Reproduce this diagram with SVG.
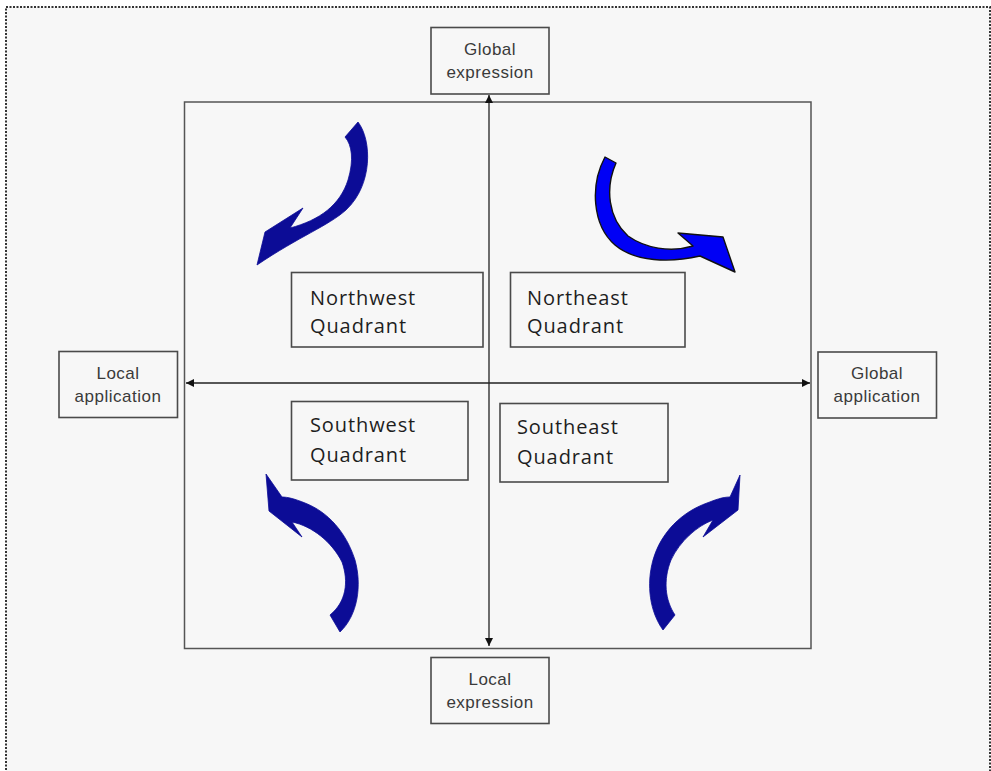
<svg xmlns="http://www.w3.org/2000/svg" width="991" height="771" viewBox="0 0 991 771">
  <style>
    .frame { fill: #f7f7f7; stroke: #333; stroke-width: 2; stroke-dasharray: 2 1.5; }
    .square { fill: none; stroke: #555; stroke-width: 1.5; }
    .box { fill: #f7f7f7; stroke: #4a4a4a; stroke-width: 1.6; }
    .axis { fill: none; stroke: #222; stroke-width: 1.3; }
    .lbl { font-family: "Liberation Sans", Arial, sans-serif; font-size: 17px; letter-spacing: 0.5px; fill: #3a3a3a; text-anchor: middle; }
    .quad { font-family: "Open Sans", "Noto Sans", sans-serif; font-size: 20px; letter-spacing: 0.9px; fill: #1e1e1e; }
    .navy { fill: #0c0c96; stroke: #0c0c96; stroke-width: 0.8; stroke-linejoin: round; }
    .bright { fill: #0000f5; stroke: #111; stroke-width: 1.4; stroke-linejoin: round; }
  </style>
  <defs>
    <marker id="tip" viewBox="0 0 10 10" refX="10" refY="5" markerWidth="8" markerHeight="8" markerUnits="userSpaceOnUse" orient="auto-start-reverse">
      <path d="M0,0 L10,5 L0,10 Z" fill="#111"/>
    </marker>
  </defs>

  <rect x="0" y="0" width="991" height="771" fill="#ffffff"/>
  <rect class="frame" x="6" y="7" width="984" height="780"/>

  <!-- outer square holding the four quadrants -->
  <rect class="square" x="184.5" y="102" width="626.5" height="546.5"/>

  <!-- axes -->
  <g id="connectors">
    <line class="axis" x1="489" y1="95" x2="489" y2="646" marker-start="url(#tip)" marker-end="url(#tip)"/>
    <line class="axis" x1="186" y1="383" x2="810" y2="383" marker-start="url(#tip)" marker-end="url(#tip)"/>
  </g>

  <!-- axis end labels -->
  <g id="global-expression">
    <rect class="box" x="431" y="27.5" width="118" height="66.5"/>
    <text class="lbl" x="490" y="55">Global</text>
    <text class="lbl" x="490" y="78">expression</text>
  </g>
  <g id="local-expression">
    <rect class="box" x="431" y="657.5" width="118" height="66"/>
    <text class="lbl" x="490" y="685">Local</text>
    <text class="lbl" x="490" y="708">expression</text>
  </g>
  <g id="local-application">
    <rect class="box" x="59" y="351.5" width="118.5" height="66"/>
    <text class="lbl" x="118" y="379">Local</text>
    <text class="lbl" x="118" y="402">application</text>
  </g>
  <g id="global-application">
    <rect class="box" x="818" y="352" width="118.5" height="66"/>
    <text class="lbl" x="877" y="379">Global</text>
    <text class="lbl" x="877" y="402">application</text>
  </g>

  <!-- quadrant boxes -->
  <g id="northwest">
    <rect class="box" x="291.5" y="272.5" width="191.5" height="74.5"/>
    <text class="quad" x="310" y="305">Northwest</text>
    <text class="quad" x="310" y="333">Quadrant</text>
  </g>
  <g id="northeast">
    <rect class="box" x="510.5" y="272.5" width="174.5" height="74.5"/>
    <text class="quad" x="527" y="305">Northeast</text>
    <text class="quad" x="527" y="333">Quadrant</text>
  </g>
  <g id="southwest">
    <rect class="box" x="291.5" y="401.5" width="176.5" height="78.5"/>
    <text class="quad" x="310" y="432">Southwest</text>
    <text class="quad" x="310" y="462">Quadrant</text>
  </g>
  <g id="southeast">
    <rect class="box" x="500" y="403.5" width="168" height="78.5"/>
    <text class="quad" x="517" y="434">Southeast</text>
    <text class="quad" x="517" y="464">Quadrant</text>
  </g>

  <!-- curved movement arrows -->
  <g id="arrow-nw">
    <path class="navy" d="M358,122 C372,140 373,185 346,210 C328,226 300,236 257,265 L265,232 L303,208 L290,228 C320,220 340,205 348,180 C354,160 352,145 345,137 Z"/>
  </g>
  <g id="arrow-ne">
    <path class="bright" d="M605,157 C590,185 592,225 615,245 C635,262 670,263 700,256 L735,272 L723,237 L678,233 L693,246 C670,253 645,248 628,236 C608,218 605,188 616,163 Z"/>
  </g>
  <g id="arrow-sw">
    <path class="navy" d="M266,474 L269,511 L302,537 L292,522 C312,526 332,542 342,562 C349,582 346,602 330,615 L340,632 C358,615 362,585 355,560 C346,532 328,512 305,503 C295,499 288,497 282,497 Z"/>
  </g>
  <g id="arrow-se">
    <path class="navy" d="M740,475 L738,510 L703,537 L713,520 C697,526 680,541 671,560 C663,580 665,600 675,615 L663,630 C650,612 646,585 653,560 C661,532 682,512 707,503 C715,500 722,497 730,497 Z"/>
  </g>
</svg>
